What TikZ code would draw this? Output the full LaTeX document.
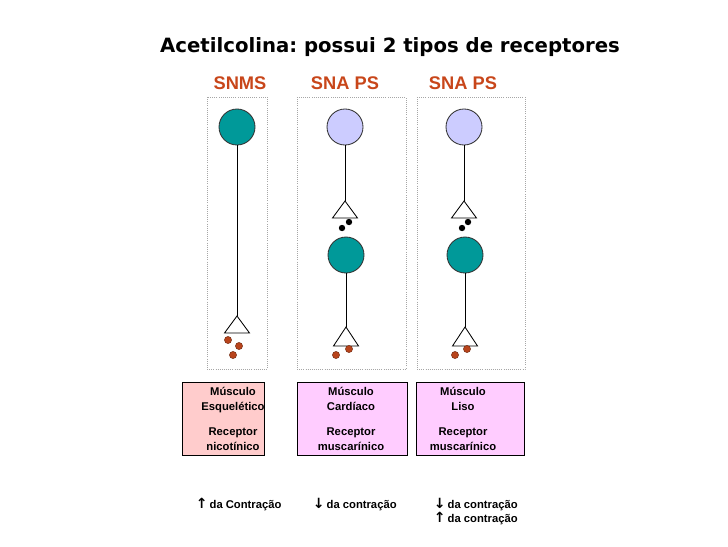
\documentclass[tikz,border=0pt]{standalone}
\usepackage{fontspec}
\setmainfont{Liberation Sans}
\newfontfamily\titlefont{DejaVu Sans}
\usetikzlibrary{positioning}
\definecolor{ink}{HTML}{000000}
\definecolor{tealcell}{HTML}{009999}
\definecolor{lilac}{HTML}{CCCCFF}
\definecolor{rust}{HTML}{C8461A}
\definecolor{vesicle}{HTML}{B8441C}
\definecolor{rosebox}{HTML}{FFCCCC}
\definecolor{pinkbox}{HTML}{FFCCFF}
\newcommand{\upar}{{\titlefont\bfseries\fontsize{10}{10}\selectfont ↑}}
\newcommand{\dnar}{{\titlefont\bfseries\fontsize{10}{10}\selectfont ↓}}

\begin{document}
\frenchspacing
\begin{tikzpicture}[x=0.025cm,y=-0.025cm]
    \tikzset{
      soma/.style={circle,draw=ink!80,line width=0.6pt,inner sep=0pt,minimum size=0.9cm},
      axon/.style={draw=ink,line width=0.6pt},
      terminal/.style={draw=ink,line width=0.6pt,fill=white},
      dotbox/.style={draw=gray!70,densely dotted,line width=0.5pt},
      musclebox/.style={draw=ink,line width=0.7pt},
      vesB/.style={circle,fill=ink,inner sep=0pt,minimum size=0.16cm},
      vesR/.style={circle,fill=vesicle,draw=vesicle!60!black,line width=0.3pt,inner sep=0pt,minimum size=0.18cm},
      header/.style={font=\bfseries\fontsize{13}{15}\selectfont,text=rust},
      celltext/.style={font=\bfseries\fontsize{8}{10.3}\selectfont,align=center},
      effect/.style={font=\bfseries\fontsize{8}{10}\selectfont,align=left,anchor=west}
    }
    \useasboundingbox (0,0) rectangle (728,546);
    % title and column heads
    \node[font=\titlefont\bfseries\fontsize{14}{16}\selectfont] (title) at (390,47) {Acetilcolina: possui 2 tipos de receptores};
    \node[header] (hA) at (240,83) {SNMS};
    \node[header] (hB) at (345,83) {SNA PS};
    \node[header] (hC) at (463,83) {SNA PS};
    % dotted frames
    \draw[dotbox] (207,97) rectangle (267,369);
    \draw[dotbox] (297,97) rectangle (406,369);
    \draw[dotbox] (417,97) rectangle (525,369);
    % column 1: somatic
    \node[soma,fill=tealcell] (s1) at (237,127) {};
    \coordinate (t1) at (237,316);
    \draw[axon] (s1) -- (t1);
    \draw[terminal] (t1) -- ++(12.5,17) -- ++(-25,0) -- cycle;
    \node[vesR] (r1a) at (228,340) {};
    \node[vesR] (r1b) at (239,346) {};
    \node[vesR] (r1c) at (233,355) {};
    % column 2: heart
    \node[soma,fill=lilac] (p2) at (345,127) {};
    \coordinate (g2) at (345,201);
    \draw[axon] (p2) -- (g2);
    \draw[terminal] (g2) -- ++(12.5,17) -- ++(-25,0) -- cycle;
    \node[vesB] (b2a) at (349,222) {};
    \node[vesB] (b2b) at (342,228) {};
    \node[soma,fill=tealcell] (q2) at (346,255) {};
    \coordinate (t2) at (346,327);
    \draw[axon] (q2) -- (t2);
    \draw[terminal] (t2) -- ++(12.5,19) -- ++(-25,0) -- cycle;
    \node[vesR] (r2a) at (349,349) {};
    \node[vesR] (r2b) at (336,355) {};
    % column 3: smooth muscle
    \node[soma,fill=lilac] (p3) at (464,127) {};
    \coordinate (g3) at (464,201);
    \draw[axon] (p3) -- (g3);
    \draw[terminal] (g3) -- ++(12.5,17) -- ++(-25,0) -- cycle;
    \node[vesB] (b3a) at (468,222) {};
    \node[vesB] (b3b) at (462,228) {};
    \node[soma,fill=tealcell] (q3) at (465,255) {};
    \coordinate (t3) at (465,327);
    \draw[axon] (q3) -- (t3);
    \draw[terminal] (t3) -- ++(12.5,19) -- ++(-25,0) -- cycle;
    \node[vesR] (r3a) at (467,349) {};
    \node[vesR] (r3b) at (455,355) {};
    % effector boxes
    \draw[musclebox,fill=rosebox] (182,382) rectangle (264,455);
    \draw[musclebox,fill=pinkbox] (297,382) rectangle (407,455);
    \draw[musclebox,fill=pinkbox] (416,382) rectangle (524,455);
    \node[celltext] (m1) at (233,419) {Músculo\\Esquelético\\[8pt]Receptor\\nicotínico};
    \node[celltext] (m2) at (351,419) {Músculo\\Cardíaco\\[8pt]Receptor\\muscarínico};
    \node[celltext] (m3) at (463,419) {Músculo\\Liso\\[8pt]Receptor\\muscarínico};
    % effects
    \node[effect] (e1) at (191,505) {\upar\,da Contração};
    \node[effect] (e2) at (308,505) {\dnar\,da contração};
    \node[effect] (e3) at (429,512) {\dnar\,da contração\\\upar\,da contração};
  \end{tikzpicture}
\end{document}
